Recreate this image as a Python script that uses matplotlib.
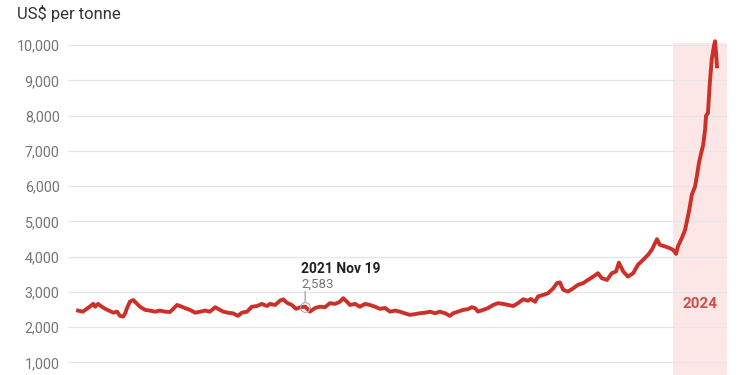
import matplotlib
matplotlib.use("Agg")
import matplotlib.pyplot as plt
import pandas as pd

plt.rcParams['font.family'] = ['Roboto', 'DejaVu Sans']

# cocoa price, days counted from 2020-07-30
start = pd.Timestamp("2020-07-30")
days = [0, 10, 21, 32, 36, 42, 50, 57, 65, 74, 82, 88, 95, 99, 103, 109, 116, 122,
        130, 141, 151, 162, 172, 183, 193, 200, 208, 218, 225, 235, 246, 256, 267,
        277, 288, 294, 305, 315, 326, 336, 344, 355, 365, 376, 386, 397, 403, 414,
        424, 431, 439, 449, 458, 466, 477, 487, 498, 508, 519, 529, 540, 550, 557,
        565, 571, 582, 592, 603, 613, 624, 634, 645, 655, 666, 676, 687, 697, 708,
        718, 729, 739, 750, 760, 771, 781, 788, 798, 809, 819, 827, 834, 840, 851,
        861, 872, 882, 893, 903, 914, 924, 935, 945, 951, 960, 966, 977, 987, 998,
        1006, 1012, 1019, 1029, 1040, 1050, 1061, 1071, 1082, 1092, 1100, 1111,
        1121, 1130, 1136, 1145, 1155, 1166, 1176, 1187, 1197, 1205, 1216, 1222,
        1233, 1243, 1250, 1256, 1260, 1268, 1275, 1281, 1285, 1289, 1296, 1300,
        1304, 1308, 1313, 1317, 1319, 1323, 1327, 1331, 1336, 1338, 1340, 1342]
prices = [2470, 2440, 2545, 2660, 2580, 2660, 2580, 2520, 2470, 2410, 2440, 2320,
          2300, 2390, 2545, 2725, 2770, 2690, 2580, 2490, 2470, 2440, 2470, 2440,
          2430, 2520, 2630, 2580, 2540, 2490, 2410, 2440, 2470, 2440, 2565, 2520,
          2440, 2410, 2390, 2320, 2410, 2440, 2580, 2600, 2660, 2600, 2660, 2630,
          2750, 2790, 2690, 2630, 2520, 2560, 2583, 2440, 2545, 2580, 2570, 2680,
          2660, 2720, 2820, 2720, 2630, 2660, 2580, 2660, 2630, 2580, 2520, 2545,
          2440, 2470, 2440, 2390, 2350, 2370, 2395, 2410, 2440, 2395, 2440, 2395,
          2320, 2395, 2440, 2490, 2510, 2565, 2540, 2440, 2490, 2540, 2630, 2680,
          2660, 2630, 2600, 2680, 2790, 2750, 2800, 2720, 2870, 2915, 2960, 3100,
          3250, 3270, 3060, 3010, 3100, 3200, 3250, 3340, 3435, 3530, 3390, 3340,
          3530, 3580, 3830, 3580, 3435, 3530, 3770, 3910, 4050, 4190, 4495, 4335,
          4290, 4240, 4190, 4080, 4290, 4525, 4760, 5140, 5420, 5750, 5990, 6300,
          6650, 6890, 7170, 7600, 8000, 8070, 8930, 9600, 10000, 10110, 9780, 9400]
dates = start + pd.to_timedelta(days, unit="D")

yticks = [1000, 2000, 3000, 4000, 5000, 6000, 7000, 8000, 9000, 10000]
note_date = pd.Timestamp("2021-11-19")
note_value = 2583
shade_start = pd.Timestamp("2024-01-01")
x_left = start - pd.Timedelta(days=21)
x_right = start + pd.Timedelta(days=1363)

fig = plt.figure(figsize=(7.5, 3.75), dpi=100)
ax = fig.add_axes([0.0907, 0.0, 0.8786, 0.885])

ax.axvspan(shade_start, x_right, color="#fde6e6", zorder=0, lw=0)
ax.plot(dates, prices, color="#cc3129", lw=2.8, solid_joinstyle="round", clip_on=False, zorder=3)

ax.set_xlim(x_left, x_right)
ax.set_ylim(643, 10057)
ax.set_yticks(yticks)
ax.set_yticklabels([f"{v:,}" for v in yticks], color="#757575", fontsize=10.3)
ax.tick_params(axis="y", length=0, pad=6)
ax.set_xticks([])
ax.grid(axis="y", color="#e3e6ea", lw=0.9)
ax.set_axisbelow(True)
for s in ax.spines.values():
    s.set_visible(False)

# annotation
ax.plot([note_date], [note_value], marker="o", ms=7, mfc="none", mec="#aaaaaa", mew=0.8, zorder=4)
ax.annotate("", xy=(note_date, note_value), xytext=(0, 11), textcoords="offset points",
            arrowprops=dict(arrowstyle="-", color="#999999", lw=0.8, shrinkA=0, shrinkB=3.5))
ax.annotate("2021 Nov 19", xy=(note_date, note_value), xytext=(-3, 27), textcoords="offset points",
            fontsize=10, fontweight="bold", color="#222222", va="center", ha="left")
ax.annotate("2,583", xy=(note_date, note_value), xytext=(-3, 16), textcoords="offset points",
            fontsize=9.5, color="#777777", va="center", ha="left")

ax.text(shade_start + (x_right - shade_start) / 2, 2650, "2024", fontsize=11, fontweight="bold",
        color="#c9504a", ha="center", va="center")

fig.text(17 / 750, 1 - 14 / 375, "US$ per tonne", fontsize=12, color="#333333", ha="left", va="center")

fig.savefig("out.png", dpi=100)
